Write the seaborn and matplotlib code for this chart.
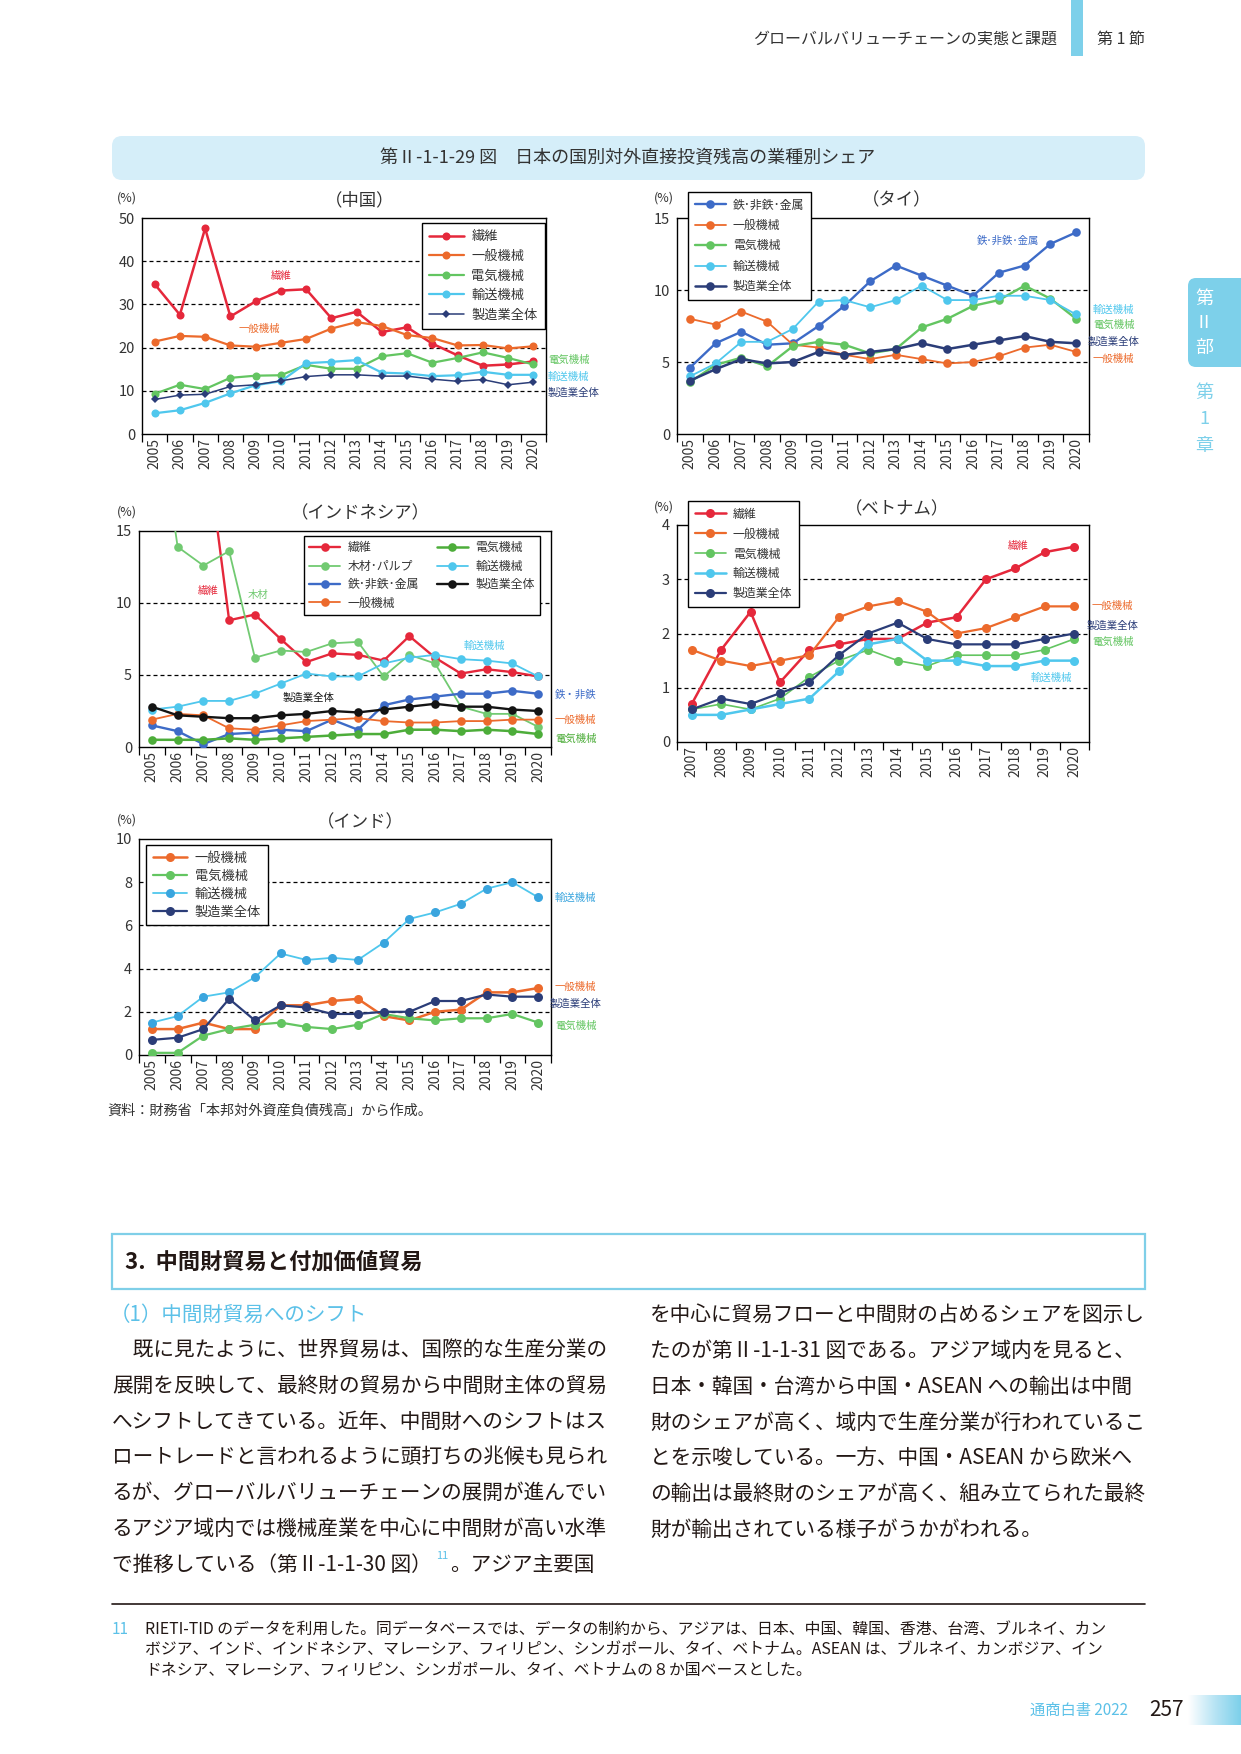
import numpy as np
import pandas as pd
import matplotlib
matplotlib.use("Agg")
import matplotlib.pyplot as plt
import seaborn as sns
from matplotlib.patches import FancyBboxPatch, Rectangle
from matplotlib.transforms import IdentityTransform
from matplotlib.lines import Line2D
from matplotlib.colors import LinearSegmentedColormap

# ---------------- data ----------------
years_05 = list(range(2005, 2021))
years_07 = list(range(2007, 2021))
year_labels_05 = [str(y) for y in years_05]
year_labels_07 = [str(y) for y in years_07]

# China
china_fiber   = [34.7, 27.6, 47.6, 27.2, 30.7, 33.2, 33.5, 26.8, 28.3, 23.6, 24.7, 20.9, 18.2, 15.8, 16.1, 16.8]
china_general = [21.4, 22.7, 22.5, 20.5, 20.2, 21.1, 22.0, 24.4, 25.9, 25.0, 22.9, 22.2, 20.5, 20.6, 19.8, 20.3]
china_elec    = [9.3, 11.4, 10.4, 13.0, 13.5, 13.6, 16.0, 15.1, 15.1, 18.0, 18.7, 16.5, 17.6, 18.9, 17.6, 16.1]
china_trans   = [4.8, 5.5, 7.2, 9.4, 11.3, 12.2, 16.4, 16.7, 17.1, 14.2, 14.0, 13.4, 13.6, 14.4, 13.7, 13.7]
china_total   = [8.0, 9.0, 9.2, 11.0, 11.4, 12.3, 13.3, 13.7, 13.7, 13.4, 13.4, 12.7, 12.2, 12.6, 11.4, 12.0]

# Thailand
thai_metal   = [4.6, 6.3, 7.1, 6.2, 6.3, 7.5, 8.9, 10.6, 11.7, 11.0, 10.3, 9.6, 11.2, 11.7, 13.2, 14.0]
thai_general = [8.0, 7.6, 8.5, 7.8, 6.2, 6.0, 5.5, 5.2, 5.5, 5.2, 4.9, 5.0, 5.4, 6.0, 6.2, 5.7]
thai_elec    = [3.6, 4.8, 5.3, 4.7, 6.1, 6.4, 6.2, 5.6, 5.9, 7.4, 8.0, 8.9, 9.3, 10.3, 9.4, 8.0]
thai_trans   = [4.0, 4.9, 6.4, 6.4, 7.3, 9.2, 9.3, 8.8, 9.3, 10.3, 9.3, 9.3, 9.6, 9.6, 9.3, 8.3]
thai_total   = [3.7, 4.5, 5.2, 4.9, 5.0, 5.7, 5.5, 5.7, 5.9, 6.3, 5.9, 6.2, 6.5, 6.8, 6.4, 6.3]

# Indonesia (values above 15 fall outside the plotted range)
indo_fiber   = [None, None, 22.7, 8.8, 9.2, 7.5, 5.9, 6.5, 6.4, 6.0, 7.7, 6.2, 5.1, 5.4, 5.2, 4.9]
indo_wood    = [26.3, 13.9, 12.6, 13.6, 6.2, 6.7, 6.6, 7.2, 7.3, 4.9, 6.4, 5.8, 2.8, 2.3, 2.3, 1.4]
indo_metal   = [1.5, 1.1, 0.2, 0.9, 1.0, 1.2, 1.1, 1.9, 1.2, 2.9, 3.3, 3.5, 3.7, 3.7, 3.9, 3.7]
indo_general = [1.9, 2.3, 2.2, 1.3, 1.2, 1.5, 1.8, 1.9, 2.0, 1.8, 1.7, 1.7, 1.8, 1.8, 1.9, 1.9]
indo_elec    = [0.5, 0.5, 0.5, 0.6, 0.5, 0.6, 0.7, 0.8, 0.9, 0.9, 1.2, 1.2, 1.1, 1.2, 1.1, 0.9]
indo_trans   = [2.6, 2.8, 3.2, 3.2, 3.7, 4.4, 5.1, 4.9, 4.9, 5.8, 6.2, 6.4, 6.1, 6.0, 5.8, 4.9]
indo_total   = [2.8, 2.2, 2.1, 2.0, 2.0, 2.2, 2.3, 2.5, 2.4, 2.6, 2.8, 3.0, 2.8, 2.8, 2.6, 2.5]

# Vietnam (2007-2020)
viet_fiber   = [0.7, 1.7, 2.4, 1.1, 1.7, 1.8, 1.9, 1.9, 2.2, 2.3, 3.0, 3.2, 3.5, 3.6]
viet_general = [1.7, 1.5, 1.4, 1.5, 1.6, 2.3, 2.5, 2.6, 2.4, 2.0, 2.1, 2.3, 2.5, 2.5]
viet_elec    = [0.6, 0.7, 0.6, 0.8, 1.2, 1.5, 1.7, 1.5, 1.4, 1.6, 1.6, 1.6, 1.7, 1.9]
viet_trans   = [0.5, 0.5, 0.6, 0.7, 0.8, 1.3, 1.8, 1.9, 1.5, 1.5, 1.4, 1.4, 1.5, 1.5]
viet_total   = [0.6, 0.8, 0.7, 0.9, 1.1, 1.6, 2.0, 2.2, 1.9, 1.8, 1.8, 1.8, 1.9, 2.0]

# India
india_general = [1.2, 1.2, 1.5, 1.2, 1.2, 2.3, 2.3, 2.5, 2.6, 1.8, 1.6, 2.0, 2.1, 2.9, 2.9, 3.1]
india_elec    = [0.1, 0.1, 0.9, 1.2, 1.4, 1.5, 1.3, 1.2, 1.4, 1.9, 1.7, 1.6, 1.7, 1.7, 1.9, 1.5]
india_trans   = [1.5, 1.8, 2.7, 2.9, 3.6, 4.7, 4.4, 4.5, 4.4, 5.2, 6.3, 6.6, 7.0, 7.7, 8.0, 7.3]
india_total   = [0.7, 0.8, 1.2, 2.6, 1.6, 2.3, 2.2, 1.9, 1.9, 2.0, 2.0, 2.5, 2.5, 2.8, 2.7, 2.7]

# ---------------- style ----------------
sns.set_theme(style="white")
plt.rcParams['font.family'] = ['Noto Sans CJK JP', 'DejaVu Sans']

RED = '#e5283b'
ORANGE = '#ec6a2c'
GREEN = '#63c561'
DKGREEN = '#4dad3a'
WOOD = '#72ca72'
LBLUE = '#4fc7ed'
NAVY = '#2b3d78'
BLUE = '#3d6bc7'
BLACK = '#141414'
TAB = '#7dd0ea'
TXT = '#333333'
BODY = '#231815'

W, H = 1241, 1754
fig = plt.figure(figsize=(W / 100, H / 100), dpi=100)
fig.patch.set_facecolor('white')


def add_axes_px(x0, y0, x1, y1):
    return fig.add_axes([x0 / W, 1 - y1 / H, (x1 - x0) / W, (y1 - y0) / H])


def ftext(x, y, s, **kw):
    kw.setdefault('va', 'center')
    kw.setdefault('color', TXT)
    return fig.text(x / W, 1 - y / H, s, **kw)


def draw_chart(box, years, ylabels, series, ylim, yticks, title, title_xy, pct_xy,
               leg_xy, leg_kw):
    ax = add_axes_px(*box)
    for v in yticks[1:-1]:
        ax.axhline(v, color='black', lw=0.9, ls=(0, (3.2, 2.4)), zorder=1)
    handles, labels = [], []
    for s in series:
        df = pd.DataFrame({'year': years, 'value': s['values']}).dropna()
        sns.lineplot(data=df, x='year', y='value', ax=ax, color=s['color'],
                     linewidth=s.get('lw', 1.6), marker=s.get('marker', 'o'),
                     markersize=s.get('ms', 5.8), markeredgewidth=0,
                     markeredgecolor=s.get('mfc', s['color']),
                     markerfacecolor=s.get('mfc', s['color']),
                     zorder=s.get('z', 3), legend=False, errorbar=None)
        handles.append(ax.lines[-1])
        labels.append(s['name'])
    ax.set_xlim(years[0] - 0.5, years[-1] + 0.5)
    ax.set_ylim(*ylim)
    ax.set_xticks(years)
    ax.set_xticklabels(ylabels, rotation=90, fontsize=10, color=TXT)
    ax.set_xticks(np.arange(years[0] - 0.5, years[-1] + 1.0, 1.0), minor=True)
    ax.tick_params(axis='x', which='major', length=0, pad=3)
    ax.tick_params(axis='x', which='minor', bottom=True, length=6, width=0.9,
                   direction='out', color='black')
    ax.set_yticks(yticks)
    ax.set_yticklabels([str(v) for v in yticks], fontsize=10.5, color=TXT)
    ax.tick_params(axis='y', length=0, pad=5)
    ax.set_xlabel('')
    ax.set_ylabel('')
    for sp in ax.spines.values():
        sp.set_visible(True)
        sp.set_color('black')
        sp.set_linewidth(1.0)
    ax.set_facecolor('white')
    ftext(title_xy[0], title_xy[1], title, ha='center', fontsize=12.5)
    ftext(pct_xy[0], pct_xy[1], '(%)', ha='center', fontsize=9)
    kw = dict(loc='upper left', bbox_to_anchor=(leg_xy[0] / W, 1 - leg_xy[1] / H),
              bbox_transform=fig.transFigure, frameon=True, fancybox=False,
              edgecolor='black', framealpha=1, borderaxespad=0, labelcolor=TXT,
              handlelength=2.6, handletextpad=0.6, labelspacing=0.32, borderpad=0.45)
    kw.update(leg_kw)
    leg = ax.legend(handles, labels, **kw)
    leg.get_frame().set_linewidth(1.0)
    leg.set_zorder(10)
    return ax


# ---------------- China ----------------
draw_chart((142, 218, 546, 434), years_05, year_labels_05, [
    dict(name='繊維', values=china_fiber, color=RED, lw=1.8),
    dict(name='一般機械', values=china_general, color=ORANGE, lw=1.6),
    dict(name='電気機械', values=china_elec, color=GREEN, lw=1.6),
    dict(name='輸送機械', values=china_trans, color=LBLUE, lw=1.6),
    dict(name='製造業全体', values=china_total, color=NAVY, lw=1.1, marker='D', ms=3.8, z=4),
], (0, 50), [0, 10, 20, 30, 40, 50], '（中国）', (360, 200), (127, 198),
    (422, 223), dict(fontsize=9.5, labelspacing=0.5, borderpad=0.55))
ftext(281, 276, '繊維', ha='center', fontsize=7.5, color=RED)
ftext(259, 329, '一般機械', ha='center', fontsize=7.5, color=ORANGE)
ftext(548, 360, '電気機械', ha='left', fontsize=7.5, color=GREEN)
ftext(548, 377, '輸送機械', ha='left', fontsize=7.5, color=LBLUE)
ftext(548, 393, '製造業全体', ha='left', fontsize=7.5, color=NAVY)

# ---------------- Thailand ----------------
draw_chart((677, 218, 1089, 434), years_05, year_labels_05, [
    dict(name='鉄･非鉄･金属', values=thai_metal, color=BLUE, lw=1.7, ms=6.2),
    dict(name='一般機械', values=thai_general, color=ORANGE, lw=1.3, ms=6.2),
    dict(name='電気機械', values=thai_elec, color=GREEN, lw=1.7, ms=6.2),
    dict(name='輸送機械', values=thai_trans, color=LBLUE, lw=1.3, ms=6.2),
    dict(name='製造業全体', values=thai_total, color=NAVY, lw=1.8, ms=6.2),
], (0, 15), [0, 5, 10, 15], '（タイ）', (897, 200), (664, 198),
    (688, 192), dict(fontsize=8.6, labelspacing=0.62, borderpad=0.55))
ftext(1008, 241, '鉄･非鉄･金属', ha='center', fontsize=7.5, color=BLUE)
ftext(1093, 310, '輸送機械', ha='left', fontsize=7.5, color=LBLUE)
ftext(1093, 325, '電気機械', ha='left', fontsize=7.5, color=GREEN)
ftext(1088, 342, '製造業全体', ha='left', fontsize=7.5, color=NAVY)
ftext(1093, 359, '一般機械', ha='left', fontsize=7.5, color=ORANGE)

# ---------------- Indonesia ----------------
draw_chart((139, 531, 551, 747), years_05, year_labels_05, [
    dict(name='繊維', values=indo_fiber, color=RED, lw=1.7, ms=6.2),
    dict(name='木材･パルプ', values=indo_wood, color=WOOD, lw=1.3, ms=6.2),
    dict(name='鉄･非鉄･金属', values=indo_metal, color=BLUE, lw=1.7, ms=6.2),
    dict(name='一般機械', values=indo_general, color=ORANGE, lw=1.3, ms=6.2),
    dict(name='電気機械', values=indo_elec, color=DKGREEN, lw=1.8, ms=6.2),
    dict(name='輸送機械', values=indo_trans, color=LBLUE, lw=1.3, ms=6.2),
    dict(name='製造業全体', values=indo_total, color=BLACK, lw=1.7, ms=6.2),
], (0, 15), [0, 5, 10, 15], '（インドネシア）', (360, 513), (127, 512),
    (304, 536), dict(fontsize=8.6, ncol=2, labelspacing=0.45, columnspacing=1.5))
ftext(208, 591, '繊維', ha='center', fontsize=7.5, color=RED)
ftext(258, 595, '木材', ha='center', fontsize=7.5, color=WOOD)
ftext(484, 646, '輸送機械', ha='center', fontsize=7.5, color=LBLUE)
ftext(309, 698, '製造業全体', ha='center', fontsize=7.5, color=BLACK)
ftext(555, 695, '鉄・非鉄', ha='left', fontsize=7.5, color=BLUE)
ftext(555, 720, '一般機械', ha='left', fontsize=7.5, color=ORANGE)
ftext(555, 739, '電気機械', ha='left', fontsize=7.5, color=DKGREEN)

# ---------------- Vietnam ----------------
draw_chart((677, 525, 1089, 742), years_07, year_labels_07, [
    dict(name='繊維', values=viet_fiber, color=RED, lw=1.8, ms=6.5),
    dict(name='一般機械', values=viet_general, color=ORANGE, lw=1.6, ms=6.5),
    dict(name='電気機械', values=viet_elec, color=GREEN, lw=1.2, ms=6.5),
    dict(name='輸送機械', values=viet_trans, color=LBLUE, lw=1.8, ms=6.5),
    dict(name='製造業全体', values=viet_total, color=NAVY, lw=1.6, ms=6.5),
], (0, 4), [0, 1, 2, 3, 4], '（ベトナム）', (897, 509), (664, 507),
    (688, 501), dict(fontsize=8.6, labelspacing=0.58, borderpad=0.55))
ftext(1018, 546, '繊維', ha='center', fontsize=7.5, color=RED)
ftext(1092, 606, '一般機械', ha='left', fontsize=7.5, color=ORANGE)
ftext(1087, 626, '製造業全体', ha='left', fontsize=7.5, color=NAVY)
ftext(1092, 642, '電気機械', ha='left', fontsize=7.5, color=GREEN)
ftext(1051, 678, '輸送機械', ha='center', fontsize=7.5, color=LBLUE)

# ---------------- India ----------------
draw_chart((139, 839, 551, 1055), years_05, year_labels_05, [
    dict(name='一般機械', values=india_general, color=ORANGE, lw=1.8, ms=6.5),
    dict(name='電気機械', values=india_elec, color=GREEN, lw=1.6, ms=6.5),
    dict(name='輸送機械', values=india_trans, color=LBLUE, lw=1.3, ms=6.5, mfc='#3aa5de'),
    dict(name='製造業全体', values=india_total, color=NAVY, lw=1.6, ms=6.5),
], (0, 10), [0, 2, 4, 6, 8, 10], '（インド）', (360, 822), (127, 820),
    (146, 845), dict(fontsize=9.5, labelspacing=0.38, borderpad=0.5))
ftext(555, 898, '輸送機械', ha='left', fontsize=7.5, color='#3aa5de')
ftext(555, 987, '一般機械', ha='left', fontsize=7.5, color=ORANGE)
ftext(550, 1004, '製造業全体', ha='left', fontsize=7.5, color=NAVY)
ftext(555, 1026, '電気機械', ha='left', fontsize=7.5, color=GREEN)

ftext(107, 1111, '資料：財務省「本邦対外資産負債残高」から作成。', ha='left', fontsize=10.2)

# ---------------- page decorations ----------------
ID = IdentityTransform()
fig.add_artist(Rectangle((1071, H - 56), 12, 56, transform=ID, color=TAB, lw=0))
ftext(1057, 39, 'グローバルバリューチェーンの実態と課題', ha='right', fontsize=11.5)
ftext(1097, 39, '第 1 節', ha='left', fontsize=11.5)

fig.add_artist(FancyBboxPatch((112, H - 180), 1033, 44,
                              boxstyle='round,pad=0,rounding_size=10',
                              transform=ID, facecolor='#d5eef9', edgecolor='none'))
ftext(628, 158, '第Ⅱ-1-1-29 図　日本の国別対外直接投資残高の業種別シェア',
      ha='center', fontsize=13)

# side tab
fig.add_artist(FancyBboxPatch((1188, H - 367), 80, 89,
                              boxstyle='round,pad=0,rounding_size=8',
                              transform=ID, facecolor=TAB, edgecolor='none'))
for ch, yy in zip(['第', 'Ⅱ', '部'], [299, 323, 348]):
    ftext(1204, yy, ch, ha='center', fontsize=13, color='white')
for ch, yy in zip(['第', '1', '章'], [393, 419, 446]):
    ftext(1204, yy, ch, ha='center', fontsize=13, color=TAB)

# section heading
fig.add_artist(Rectangle((112, H - 1289), 1033, 55, transform=ID, fill=False,
                         edgecolor='#7fcfe8', lw=1.6))
ftext(125, 1262, '3.  中間財貿易と付加価値貿易', ha='left', fontsize=16,
      fontweight='bold', color=BODY)
ftext(110, 1315, '（1）中間財貿易へのシフト', ha='left', fontsize=14.8, color='#5cc1e8')

left_lines = [
    '　既に見たように、世界貿易は、国際的な生産分業の',
    '展開を反映して、最終財の貿易から中間財主体の貿易',
    'へシフトしてきている。近年、中間財へのシフトはス',
    'ロートレードと言われるように頭打ちの兆候も見られ',
    'るが、グローバルバリューチェーンの展開が進んでい',
    'るアジア域内では機械産業を中心に中間財が高い水準',
]
right_lines = [
    'を中心に貿易フローと中間財の占めるシェアを図示し',
    'たのが第Ⅱ-1-1-31 図である。アジア域内を見ると、',
    '日本・韓国・台湾から中国・ASEAN への輸出は中間',
    '財のシェアが高く、域内で生産分業が行われているこ',
    'とを示唆している。一方、中国・ASEAN から欧米へ',
    'の輸出は最終財のシェアが高く、組み立てられた最終',
    '財が輸出されている様子がうかがわれる。',
]
BFS = 14.9
LS = 35.8
for i, s in enumerate(left_lines):
    ftext(112, 1350 + LS * i, s, ha='left', fontsize=BFS, color=BODY)
y7 = 1350 + LS * 6
t1 = ftext(112, y7, 'で推移している（第Ⅱ-1-1-30 図）', ha='left', fontsize=BFS, color=BODY)
renderer = fig.canvas.get_renderer()
bb = t1.get_window_extent(renderer)
t2 = fig.text((bb.x1 + 4) / W, 1 - (y7 - 9) / H, '11', ha='left', va='center',
              fontsize=8, color='#5cc1e8')
bb2 = t2.get_window_extent(renderer)
fig.text((bb2.x1 + 2) / W, 1 - y7 / H, '。アジア主要国', ha='left', va='center',
         fontsize=BFS, color=BODY)
for i, s in enumerate(right_lines):
    ftext(650, 1315 + LS * i, s, ha='left', fontsize=BFS, color=BODY)

# footnote
fig.add_artist(Line2D([112, 1145], [H - 1604, H - 1604], transform=ID, color='#231815', lw=1.2))
ftext(112, 1629, '11', ha='left', fontsize=11, color='#5cc1e8')
foot_lines = [
    'RIETI-TID のデータを利用した。同データベースでは、データの制約から、アジアは、日本、中国、韓国、香港、台湾、ブルネイ、カン',
    'ボジア、インド、インドネシア、マレーシア、フィリピン、シンガポール、タイ、ベトナム。ASEAN は、ブルネイ、カンボジア、イン',
    'ドネシア、マレーシア、フィリピン、シンガポール、タイ、ベトナムの８か国ベースとした。',
]
for i, s in enumerate(foot_lines):
    ftext(145, 1629 + 20.5 * i, s, ha='left', fontsize=11.4, color=BODY)

# footer
ftext(1128, 1710, '通商白書 2022', ha='right', fontsize=11, color='#5cc1e8')
ftext(1149, 1710, '257', ha='left', fontsize=15, color=BODY)
gax = add_axes_px(1188, 1695, 1241, 1725)
cmap = LinearSegmentedColormap.from_list('g', ['#ffffff', '#b8e4f4', TAB])
gax.imshow(np.linspace(0, 1, 64).reshape(1, -1), aspect='auto', cmap=cmap)
gax.axis('off')

fig.savefig('out.png', dpi=100, facecolor='white')
